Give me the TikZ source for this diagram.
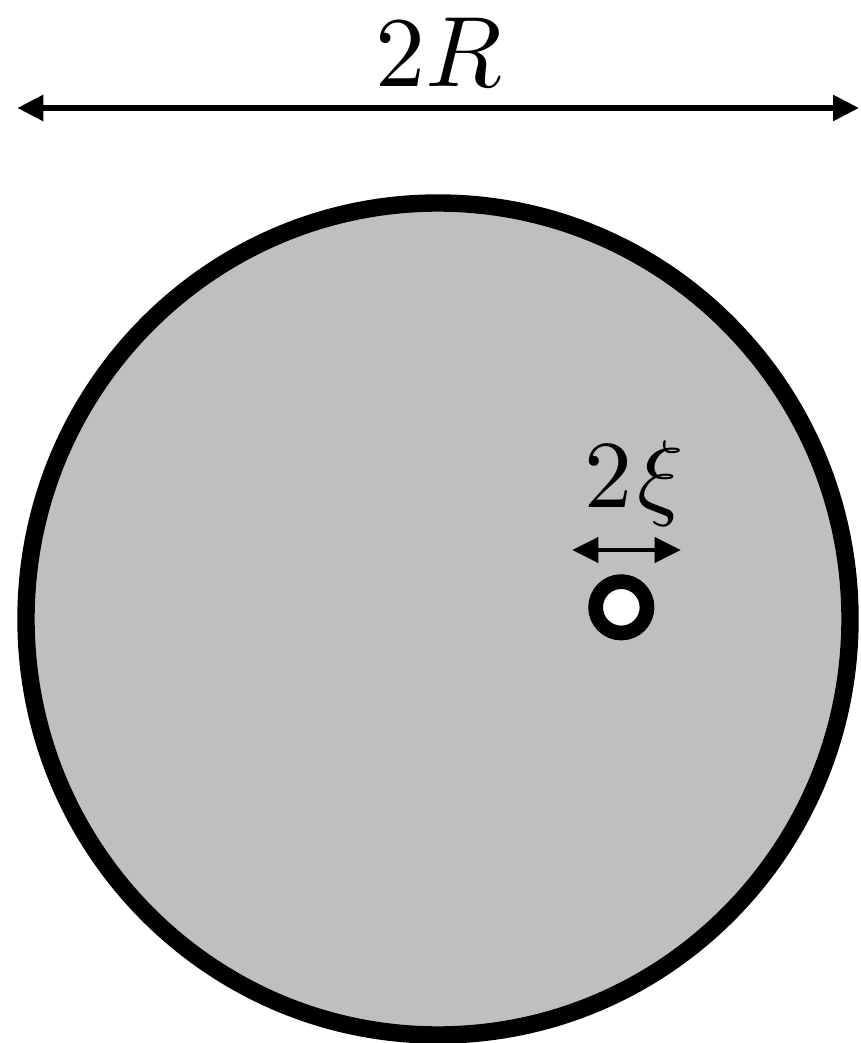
\documentclass[tikz,border=0pt]{standalone}
\usepackage{tikz}
\usetikzlibrary{arrows.meta}
\definecolor{diskgray}{gray}{0.75}

\begin{document}
\begin{tikzpicture}[x=0.5pt,y=-0.5pt,
  dim/.style={{Triangle[length=13pt,width=12.5pt]}-{Triangle[length=13pt,width=12.5pt]}},
  lbl/.style={anchor=base,inner sep=0pt}]
\useasboundingbox (0,0) rectangle (861,1043);
\draw[line width=8.7pt,fill=diskgray] (438,619) ellipse [x radius=412,y radius=416];
\draw[line width=7.35pt,fill=white] (621.3,607.3) circle [radius=25.7];
\coordinate (bigL) at (17.3,108);\coordinate (bigR) at (859,108);
\draw[dim,line width=2.85pt] (bigL)--(bigR);
\node[lbl,scale=5] (bigR-lbl) at (439,87) {$2R$};
\coordinate (smallL) at (572.3,550);\coordinate (smallR) at (680.7,550);
\draw[dim,line width=2pt] (smallL)--(smallR);
\node[lbl,scale=4.8] (small-lbl) at (634,507) {$2\mkern1mu\xi$};
\end{tikzpicture}
\end{document}
